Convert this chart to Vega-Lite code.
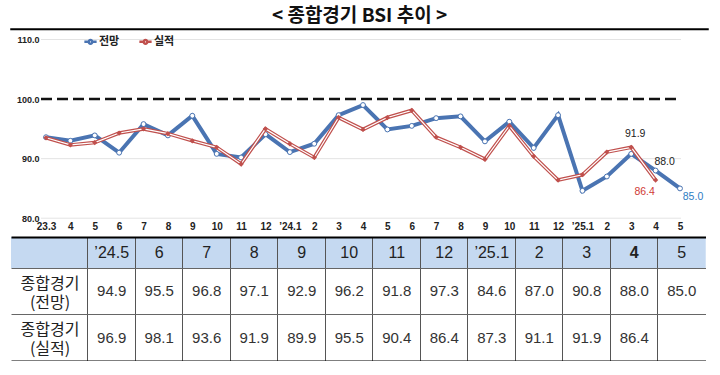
{
  "$schema": "https://vega.github.io/schema/vega-lite/v6.json",
  "background": "white",
  "padding": {"left": 10, "top": 6, "right": 0, "bottom": 0},
  "config": {"view": {"stroke": null}, "font": "Liberation Sans"},
  "datasets": {
    "bsi": [
      {"t": "23.03", "s": "전망", "v": 93.6}, {"t": "23.03", "s": "실적", "v": 93.5},
      {"t": "23.04", "s": "전망", "v": 93.0}, {"t": "23.04", "s": "실적", "v": 92.3},
      {"t": "23.05", "s": "전망", "v": 93.9}, {"t": "23.05", "s": "실적", "v": 92.7},
      {"t": "23.06", "s": "전망", "v": 91.0}, {"t": "23.06", "s": "실적", "v": 94.3},
      {"t": "23.07", "s": "전망", "v": 95.8}, {"t": "23.07", "s": "실적", "v": 95.0},
      {"t": "23.08", "s": "전망", "v": 93.9}, {"t": "23.08", "s": "실적", "v": 94.2},
      {"t": "23.09", "s": "전망", "v": 97.2}, {"t": "23.09", "s": "실적", "v": 93.0},
      {"t": "23.10", "s": "전망", "v": 90.8}, {"t": "23.10", "s": "실적", "v": 91.9},
      {"t": "23.11", "s": "전망", "v": 90.2}, {"t": "23.11", "s": "실적", "v": 89.1},
      {"t": "23.12", "s": "전망", "v": 94.1}, {"t": "23.12", "s": "실적", "v": 95.0},
      {"t": "24.01", "s": "전망", "v": 91.1}, {"t": "24.01", "s": "실적", "v": 92.5},
      {"t": "24.02", "s": "전망", "v": 92.5}, {"t": "24.02", "s": "실적", "v": 90.2},
      {"t": "24.03", "s": "전망", "v": 97.3}, {"t": "24.03", "s": "실적", "v": 96.9},
      {"t": "24.04", "s": "전망", "v": 99.0}, {"t": "24.04", "s": "실적", "v": 94.9},
      {"t": "24.05", "s": "전망", "v": 94.9}, {"t": "24.05", "s": "실적", "v": 96.9},
      {"t": "24.06", "s": "전망", "v": 95.5}, {"t": "24.06", "s": "실적", "v": 98.1},
      {"t": "24.07", "s": "전망", "v": 96.8}, {"t": "24.07", "s": "실적", "v": 93.6},
      {"t": "24.08", "s": "전망", "v": 97.1}, {"t": "24.08", "s": "실적", "v": 91.9},
      {"t": "24.09", "s": "전망", "v": 92.9}, {"t": "24.09", "s": "실적", "v": 89.9},
      {"t": "24.10", "s": "전망", "v": 96.2}, {"t": "24.10", "s": "실적", "v": 95.5},
      {"t": "24.11", "s": "전망", "v": 91.8}, {"t": "24.11", "s": "실적", "v": 90.4},
      {"t": "24.12", "s": "전망", "v": 97.3}, {"t": "24.12", "s": "실적", "v": 86.4},
      {"t": "25.01", "s": "전망", "v": 84.6}, {"t": "25.01", "s": "실적", "v": 87.3},
      {"t": "25.02", "s": "전망", "v": 87.0}, {"t": "25.02", "s": "실적", "v": 91.1},
      {"t": "25.03", "s": "전망", "v": 90.8}, {"t": "25.03", "s": "실적", "v": 91.9},
      {"t": "25.04", "s": "전망", "v": 88.0}, {"t": "25.04", "s": "실적", "v": 86.4},
      {"t": "25.05", "s": "전망", "v": 85.0}
    ]
  },
  "spacing": 5,
  "vconcat": [
    {
      "spacing": 0,
      "vconcat": [
        {
          "width": 697,
          "height": 0.5,
          "title": {"text": "< 종합경기 BSI 추이 >", "font": "Noto Sans CJK KR", "fontSize": 19, "fontWeight": "bold", "anchor": "middle", "offset": -3, "color": "#111"},
          "view": {"stroke": "#000", "strokeWidth": 1.5},
          "data": {"values": [{}]},
          "mark": {"type": "text"},
          "encoding": {"text": {"value": ""}}
        },
        {
          "width": 697,
          "height": 183.2,
          "data": {"name": "bsi"},
          "resolve": {"axis": {"x": "independent", "y": "independent"}},
          "layer": [
            {
              "data": {"values": [{}]},
              "mark": {"type": "rule", "color": "#e4e4e4", "strokeWidth": 1, "xOffset": -5, "x2Offset": 1},
              "encoding": {
                "x": {"datum": "23.03", "type": "ordinal", "axis": null},
                "x2": {"datum": "25.05"},
                "y": {"datum": 80, "type": "quantitative", "axis": null}
              }
            },
            {
              "data": {"values": [{}]},
              "mark": {"type": "rule", "color": "#e4e4e4", "strokeWidth": 1, "xOffset": -5, "x2Offset": 1},
              "encoding": {
                "x": {"datum": "23.03", "type": "ordinal", "axis": null},
                "x2": {"datum": "25.05"},
                "y": {"datum": 90, "type": "quantitative", "axis": null}
              }
            },
            {
              "data": {"values": [{}]},
              "mark": {"type": "rule", "color": "#e4e4e4", "strokeWidth": 1, "xOffset": -5, "x2Offset": 1},
              "encoding": {
                "x": {"datum": "23.03", "type": "ordinal", "axis": null},
                "x2": {"datum": "25.05"},
                "y": {"datum": 110, "type": "quantitative", "axis": null}
              }
            },
            {
              "data": {"values": [{}]},
              "mark": {"type": "rule", "color": "#111", "strokeWidth": 2.5, "strokeDash": [11, 5], "xOffset": -5, "x2Offset": -2},
              "encoding": {
                "x": {"datum": "23.03", "type": "ordinal", "axis": null},
                "x2": {"datum": "25.05"},
                "y": {"datum": 100, "type": "quantitative", "axis": null}
              }
            },
            {
              "transform": [{"filter": "datum.s == '전망'"}],
              "mark": {"type": "line", "strokeWidth": 4},
              "encoding": {
                "x": {"field": "t", "type": "ordinal", "scale": {"type": "point", "range": [35, 669], "padding": 0},
                  "axis": {"orient": "bottom", "domain": false, "ticks": false, "grid": false, "title": null, "labelAngle": 0, "labelPadding": 3, "labelFontSize": 10, "labelFontWeight": "bold", "labelColor": "#222",
                    "labelExpr": "datum.value == null ? '' : (datum.value == '23.03' ? '23.3' : (substring(datum.value, 3) == '01' ? '’' + substring(datum.value, 0, 2) + '.1' : '' + toNumber(substring(datum.value, 3))))"}},
                "y": {"field": "v", "type": "quantitative", "scale": {"domain": [80, 110.76], "nice": false, "zero": false},
                  "axis": {"orient": "left", "offset": -30, "values": [80, 90, 100, 110], "format": ".1f", "domain": false, "ticks": false, "grid": false, "title": null, "labelPadding": 2, "labelFontSize": 9, "labelFontWeight": "bold", "labelColor": "#222"}},
                "color": {"field": "s", "type": "nominal", "scale": {"domain": ["전망", "실적"], "range": ["#4a74b2", "#c0504d"]},
                  "legend": {"orient": "none", "legendX": 72, "legendY": 5, "direction": "horizontal", "title": null, "symbolType": "M-1,0H-0.3M0.3,0H1M0.3,0A0.3,0.3 0 1 1 -0.3,0A0.3,0.3 0 1 1 0.3,0", "symbolStrokeWidth": 2.5, "symbolSize": 150, "labelFontSize": 11, "labelFont": "Noto Sans CJK KR", "labelFontWeight": "bold", "labelColor": "#222", "columnPadding": 14, "labelOffset": 1}}
              }
            },
            {
              "transform": [{"filter": "datum.s == '전망'"}],
              "mark": {"type": "point", "shape": "circle", "filled": true, "fill": "white", "stroke": "#4a74b2", "strokeWidth": 1, "size": 24, "opacity": 1},
              "encoding": {
                "x": {"field": "t", "type": "ordinal", "axis": null},
                "y": {"field": "v", "type": "quantitative", "axis": null}
              }
            },
            {
              "transform": [{"filter": "datum.s == '실적'"}],
              "mark": {"type": "line", "strokeWidth": 3.6},
              "encoding": {
                "x": {"field": "t", "type": "ordinal", "axis": null},
                "y": {"field": "v", "type": "quantitative", "axis": null},
                "color": {"field": "s", "type": "nominal", "legend": null}
              }
            },
            {
              "transform": [{"filter": "datum.s == '실적'"}],
              "mark": {"type": "line", "strokeWidth": 1.2, "color": "white"},
              "encoding": {
                "x": {"field": "t", "type": "ordinal", "axis": null},
                "y": {"field": "v", "type": "quantitative", "axis": null}
              }
            },
            {
              "transform": [{"filter": "datum.s == '실적'"}],
              "mark": {"type": "point", "shape": "diamond", "filled": true, "color": "#c0504d", "size": 28, "opacity": 1},
              "encoding": {
                "x": {"field": "t", "type": "ordinal", "axis": null},
                "y": {"field": "v", "type": "quantitative", "axis": null}
              }
            },
            {
              "transform": [{"filter": "datum.t == '25.03' && datum.s == '실적'"}],
              "mark": {"type": "text", "dy": -13, "dx": 4, "fontSize": 10.5, "color": "#222"},
              "encoding": {
                "x": {"field": "t", "type": "ordinal", "axis": null},
                "y": {"field": "v", "type": "quantitative", "axis": null},
                "text": {"field": "v", "type": "quantitative", "format": ".1f"}
              }
            },
            {
              "transform": [{"filter": "datum.t == '25.04' && datum.s == '전망'"}],
              "mark": {"type": "text", "dy": -9, "dx": 9, "fontSize": 10.5, "color": "#222"},
              "encoding": {
                "x": {"field": "t", "type": "ordinal", "axis": null},
                "y": {"field": "v", "type": "quantitative", "axis": null},
                "text": {"field": "v", "type": "quantitative", "format": ".1f"}
              }
            },
            {
              "transform": [{"filter": "datum.t == '25.04' && datum.s == '실적'"}],
              "mark": {"type": "text", "dy": 12, "dx": -11, "fontSize": 10.5, "color": "#d03a36"},
              "encoding": {
                "x": {"field": "t", "type": "ordinal", "axis": null},
                "y": {"field": "v", "type": "quantitative", "axis": null},
                "text": {"field": "v", "type": "quantitative", "format": ".1f"}
              }
            },
            {
              "transform": [{"filter": "datum.t == '25.05' && datum.s == '전망'"}],
              "mark": {"type": "text", "dy": 9, "dx": 13, "fontSize": 10.5, "color": "#2e7dc4"},
              "encoding": {
                "x": {"field": "t", "type": "ordinal", "axis": null},
                "y": {"field": "v", "type": "quantitative", "axis": null},
                "text": {"field": "v", "type": "quantitative", "format": ".1f"}
              }
            }
          ]
        }
      ]
    },
    {
      "spacing": 0,
      "vconcat": [
        {
          "width": 694.5,
          "height": 31,
          "data": {"name": "bsi"},
          "transform": [{"filter": "datum.s == '전망' && datum.t >= '24.05'"}],
          "view": {"fill": "#c5d9f1", "stroke": null},
          "mark": {"type": "rect", "color": "#c5d9f1"},
          "encoding": {
            "x": {"field": "t", "type": "ordinal", "scale": {"type": "band", "paddingInner": 0, "paddingOuter": 0.81, "align": 1},
              "axis": {"orient": "top", "domain": true, "domainColor": "#000", "domainWidth": 2, "ticks": false, "grid": true, "bandPosition": 0, "gridColor": "#555", "gridWidth": 1, "title": null, "labelAngle": 0, "labelBaseline": "middle", "labelPadding": -15.5, "labelFontSize": 16, "labelColor": "#222",
                "labelExpr": "datum.value == null ? '' : (datum.value == '24.05' ? '’24.5' : (datum.value == '25.01' ? '’25.1' : '' + toNumber(substring(datum.value, 3))))",
                "labelFontWeight": {"condition": {"test": "datum.value == '25.04'", "value": "bold"}, "value": "normal"}}}
          }
        },
        {
          "width": 694.5,
          "height": 93,
          "data": {"name": "bsi"},
          "transform": [{"filter": "datum.t >= '24.05'"}],
          "mark": {"type": "text", "fontSize": 15, "color": "#333", "font": "Liberation Sans"},
          "encoding": {
            "x": {"field": "t", "type": "ordinal", "scale": {"type": "band", "paddingInner": 0, "paddingOuter": 0.81, "align": 1},
              "axis": {"orient": "bottom", "domain": true, "domainColor": "#000", "domainWidth": 2, "ticks": false, "labels": false, "grid": true, "bandPosition": 0, "gridColor": "#555", "gridWidth": 1, "title": null}},
            "y": {"field": "s", "type": "nominal", "sort": ["전망", "실적"], "scale": {"type": "band", "paddingInner": 0, "paddingOuter": 0},
              "axis": {"orient": "left", "domain": false, "ticks": false, "grid": true, "bandPosition": 0, "gridColor": "#666", "gridWidth": 1, "title": null, "labelAlign": "center", "labelBaseline": "middle", "labelPadding": -38.5, "labelOffset": -7.5, "labelFontSize": 16, "labelFont": "Noto Sans CJK KR", "labelColor": "#222", "labelLineHeight": 19,
                "labelExpr": "datum.value == null ? '' : ['종합경기', '(' + datum.value + ')']"}},
            "text": {"field": "v", "type": "quantitative", "format": ".1f"}
          }
        }
      ]
    }
  ]
}
